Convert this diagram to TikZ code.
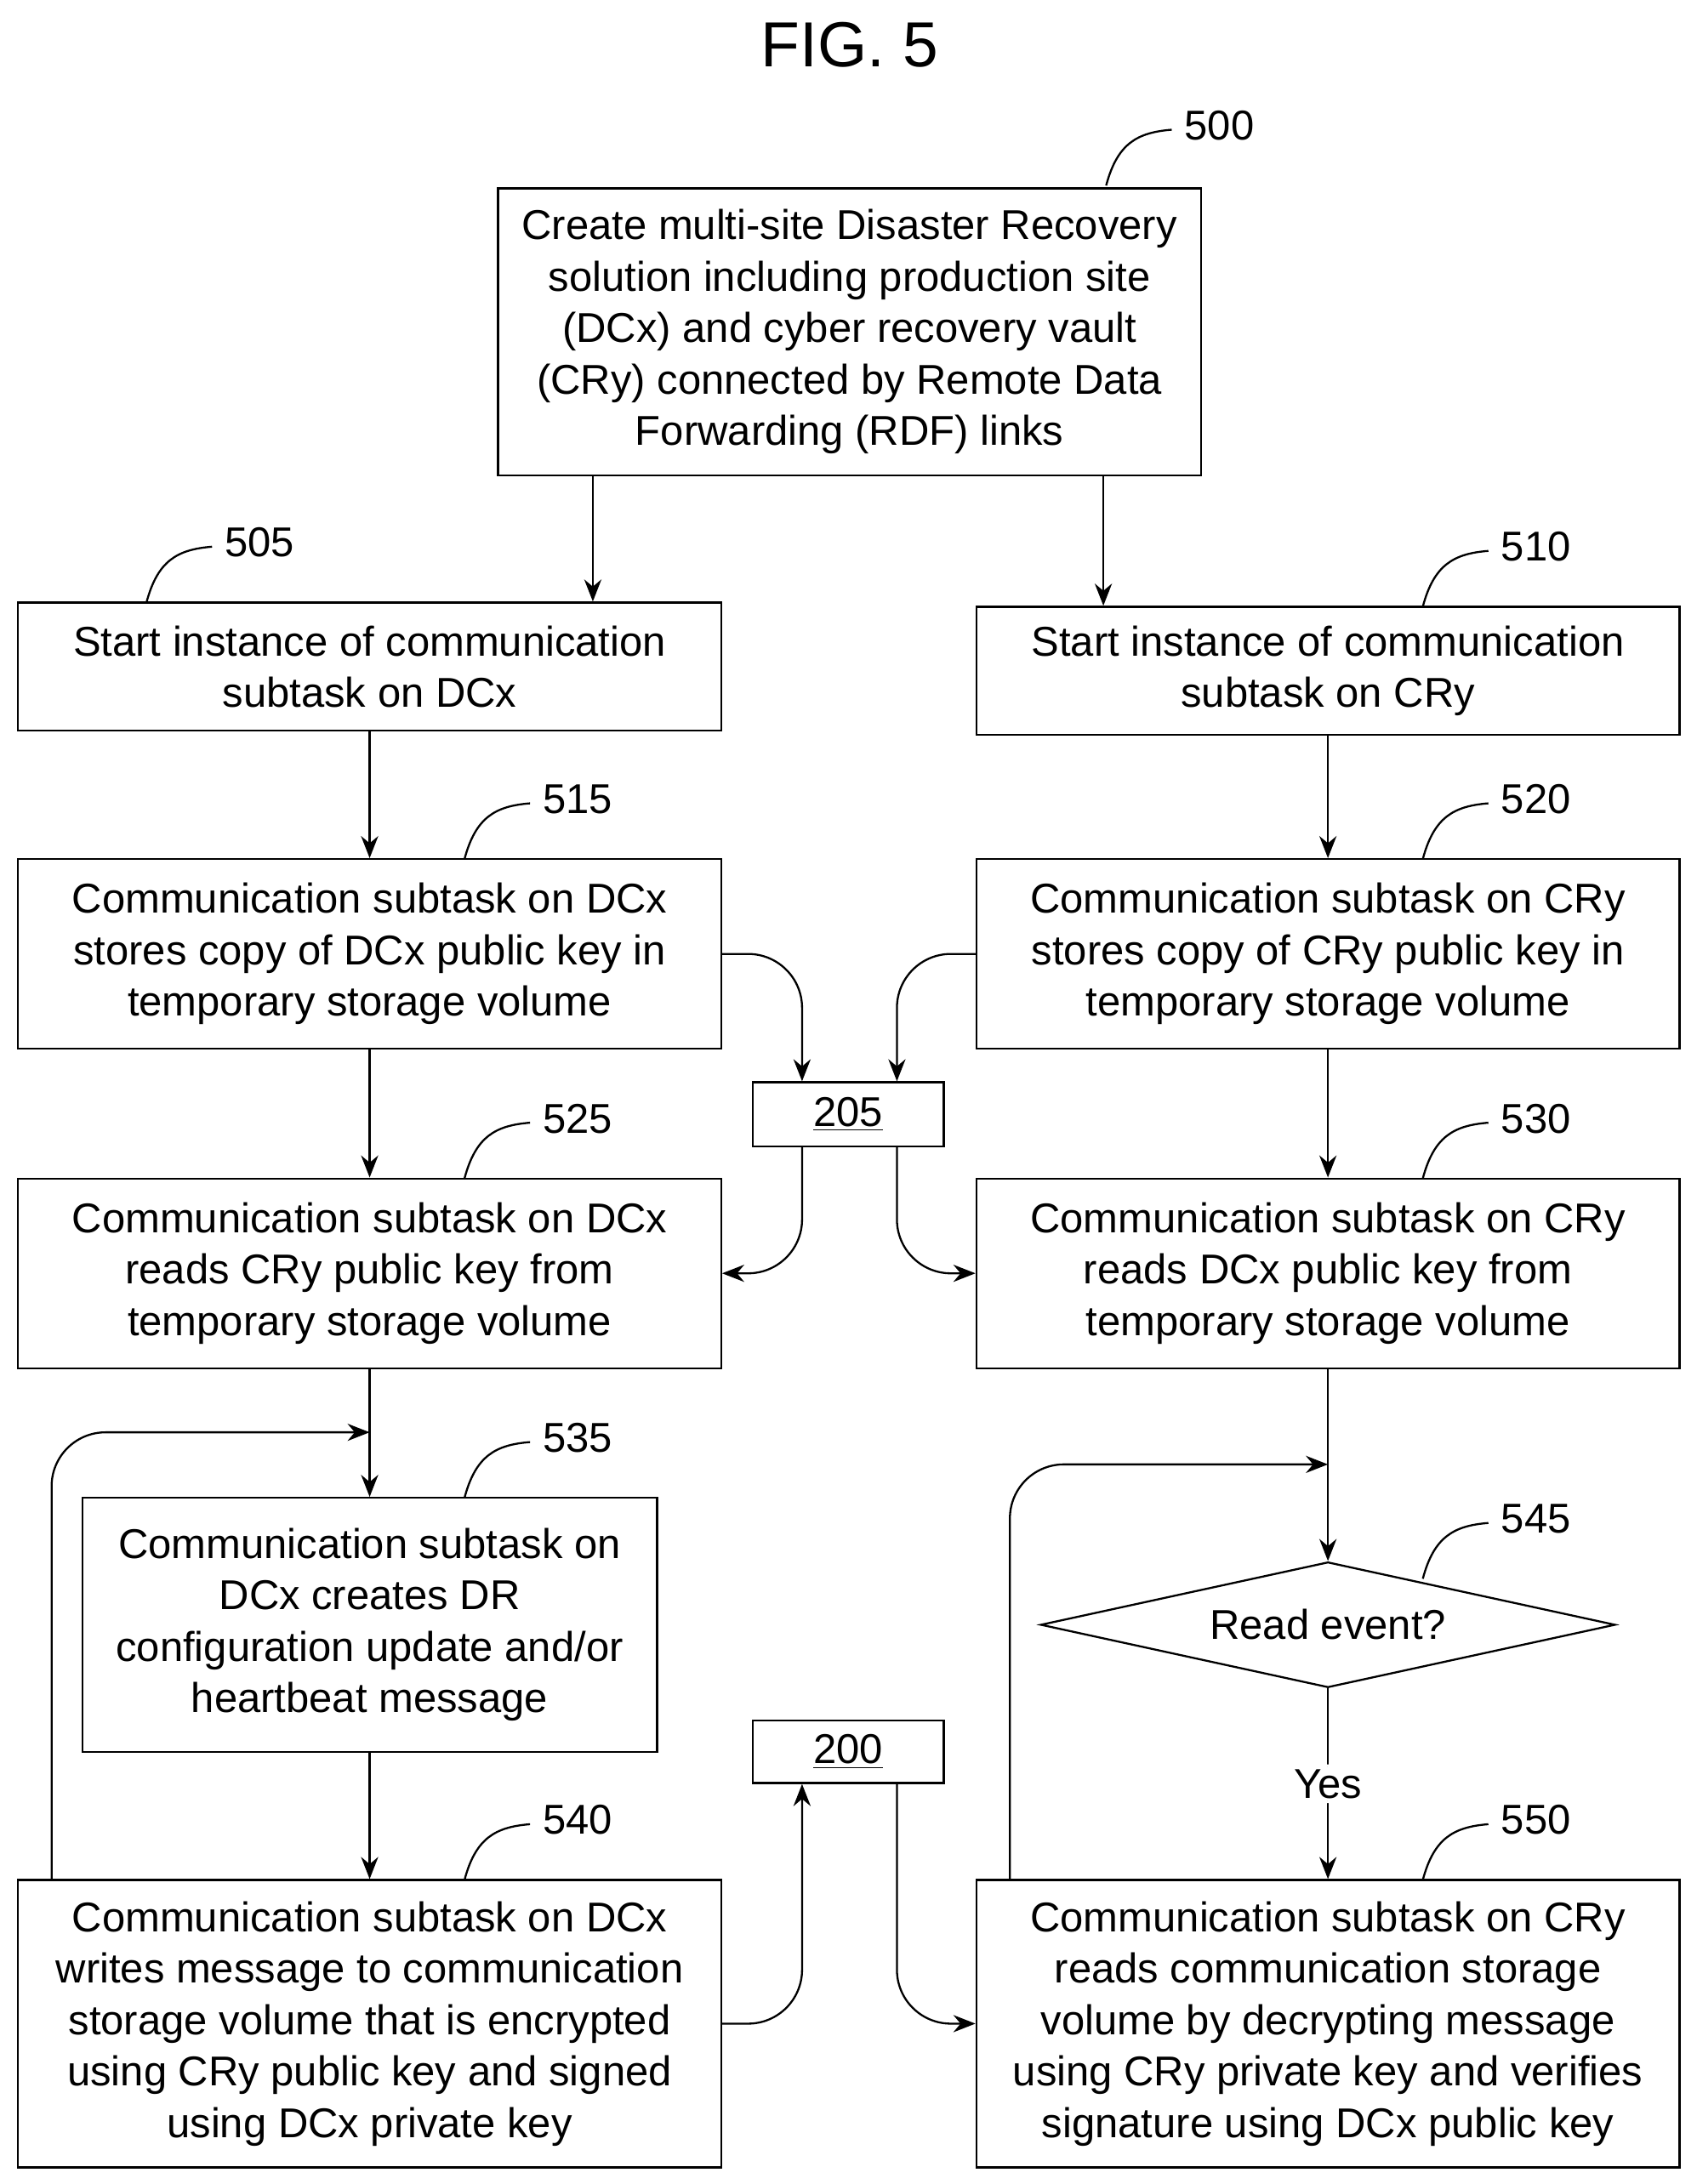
\documentclass[tikz,border=0pt]{standalone}
\usepackage{fontspec}
\setmainfont{Liberation Sans}
\usetikzlibrary{arrows.meta,shapes.geometric}
\begin{document}
\begin{tikzpicture}[x=0.02cm,y=-0.02cm,
    every node/.style={font=\fontsize{17}{21}\selectfont},
    box/.style={draw,thick,align=center,inner sep=0pt},
    ref/.style={anchor=west},
    lead/.style={thick},
    flow/.style={thick,-{Stealth[length=9pt,width=7pt]},rounded corners=22pt}]
\useasboundingbox (0,0) rectangle (1216,1566);
\node[font=\fontsize{26}{30}\selectfont] (title) at (609,32) {FIG. 5};

\node[box,minimum width=504*0.02cm,minimum height=206*0.02cm] (s500) at (609,238) {Create multi-site Disaster Recovery\\solution including production site\\(DCx) and cyber recovery vault\\(CRy) connected by Remote Data\\Forwarding (RDF) links};
\node[box,minimum width=504*0.02cm,minimum height=92*0.02cm] (s505) at (265,478) {Start instance of communication\\subtask on DCx};
\node[box,minimum width=504*0.02cm,minimum height=92*0.02cm] (s510) at (952,481) {Start instance of communication\\subtask on CRy};
\node[box,minimum width=504*0.02cm,minimum height=136*0.02cm] (s515) at (265,684) {Communication subtask on DCx\\stores copy of DCx public key in\\temporary storage volume};
\node[box,minimum width=504*0.02cm,minimum height=136*0.02cm] (s520) at (952,684) {Communication subtask on CRy\\stores copy of CRy public key in\\temporary storage volume};
\node[box,minimum width=137*0.02cm,minimum height=46*0.02cm] (v205) at (608,799) {\underline{205}};
\node[box,minimum width=504*0.02cm,minimum height=136*0.02cm] (s525) at (265,913) {Communication subtask on DCx\\reads CRy public key from\\temporary storage volume};
\node[box,minimum width=504*0.02cm,minimum height=136*0.02cm] (s530) at (952,913) {Communication subtask on CRy\\reads DCx public key from\\temporary storage volume};
\node[box,minimum width=412*0.02cm,minimum height=182*0.02cm] (s535) at (265,1165) {Communication subtask on\\DCx creates DR\\configuration update and/or\\heartbeat message};
\node[box,diamond,shape aspect=4.6,minimum width=412*0.02cm,minimum height=90*0.02cm] (s545) at (952,1165) {Read event?};
\node[box,minimum width=137*0.02cm,minimum height=45*0.02cm] (v200) at (608,1256) {\underline{200}};
\node[box,minimum width=504*0.02cm,minimum height=206*0.02cm] (s540) at (265,1451) {Communication subtask on DCx\\writes message to communication\\storage volume that is encrypted\\using CRy public key and signed\\using DCx private key};
\node[box,minimum width=504*0.02cm,minimum height=206*0.02cm] (s550) at (952,1451) {Communication subtask on CRy\\reads communication storage\\volume by decrypting message\\using CRy private key and verifies\\signature using DCx public key};

% reference numerals
\foreach \n/\bx/\by in {500/793/133, 505/105/432, 510/1020/435, 515/333/616, 520/1020/616,
    525/333/845, 530/1020/845, 535/333/1074, 545/1020/1132, 540/333/1348, 550/1020/1348} {
  \draw[lead] (\bx,\by) .. controls (\bx+8,\by-30) and (\bx+22,\by-38) .. (\bx+47,\by-40);
  \node[ref] (n\n) at (\bx+50,\by-43) {\n};
}

% connectors
\draw[flow] (s500.south -| 425,0) -- (s505.north -| 425,0);
\draw[flow] (s500.south -| 791,0) -- (s510.north -| 791,0);
\draw[flow] (s505) -- (s515);
\draw[flow] (s510) -- (s520);
\draw[flow] (s515.east) -| (v205.north -| 575,0);
\draw[flow] (s520.west) -| (v205.north -| 643,0);
\draw[flow] (s515) -- (s525);
\draw[flow] (s520) -- (s530);
\draw[flow] (v205.south -| 575,0) |- (s525.east);
\draw[flow] (v205.south -| 643,0) |- (s530.west);
\draw[flow] (s525) -- (s535);
\draw[flow] (s535) -- (s540);
\draw[flow] (s540.north -| 37,0) |- (265,1027);
\draw[flow] (s530) -- (s545);
\draw[flow] (s545) -- node[fill=white,inner sep=2pt] {Yes} (s550);
\draw[flow] (s550.north -| 724,0) |- (952,1050);
\draw[flow] (s540.east) -| (v200.south -| 575,0);
\draw[flow] (v200.south -| 643,0) |- (s550.west);
\end{tikzpicture}
\end{document}
